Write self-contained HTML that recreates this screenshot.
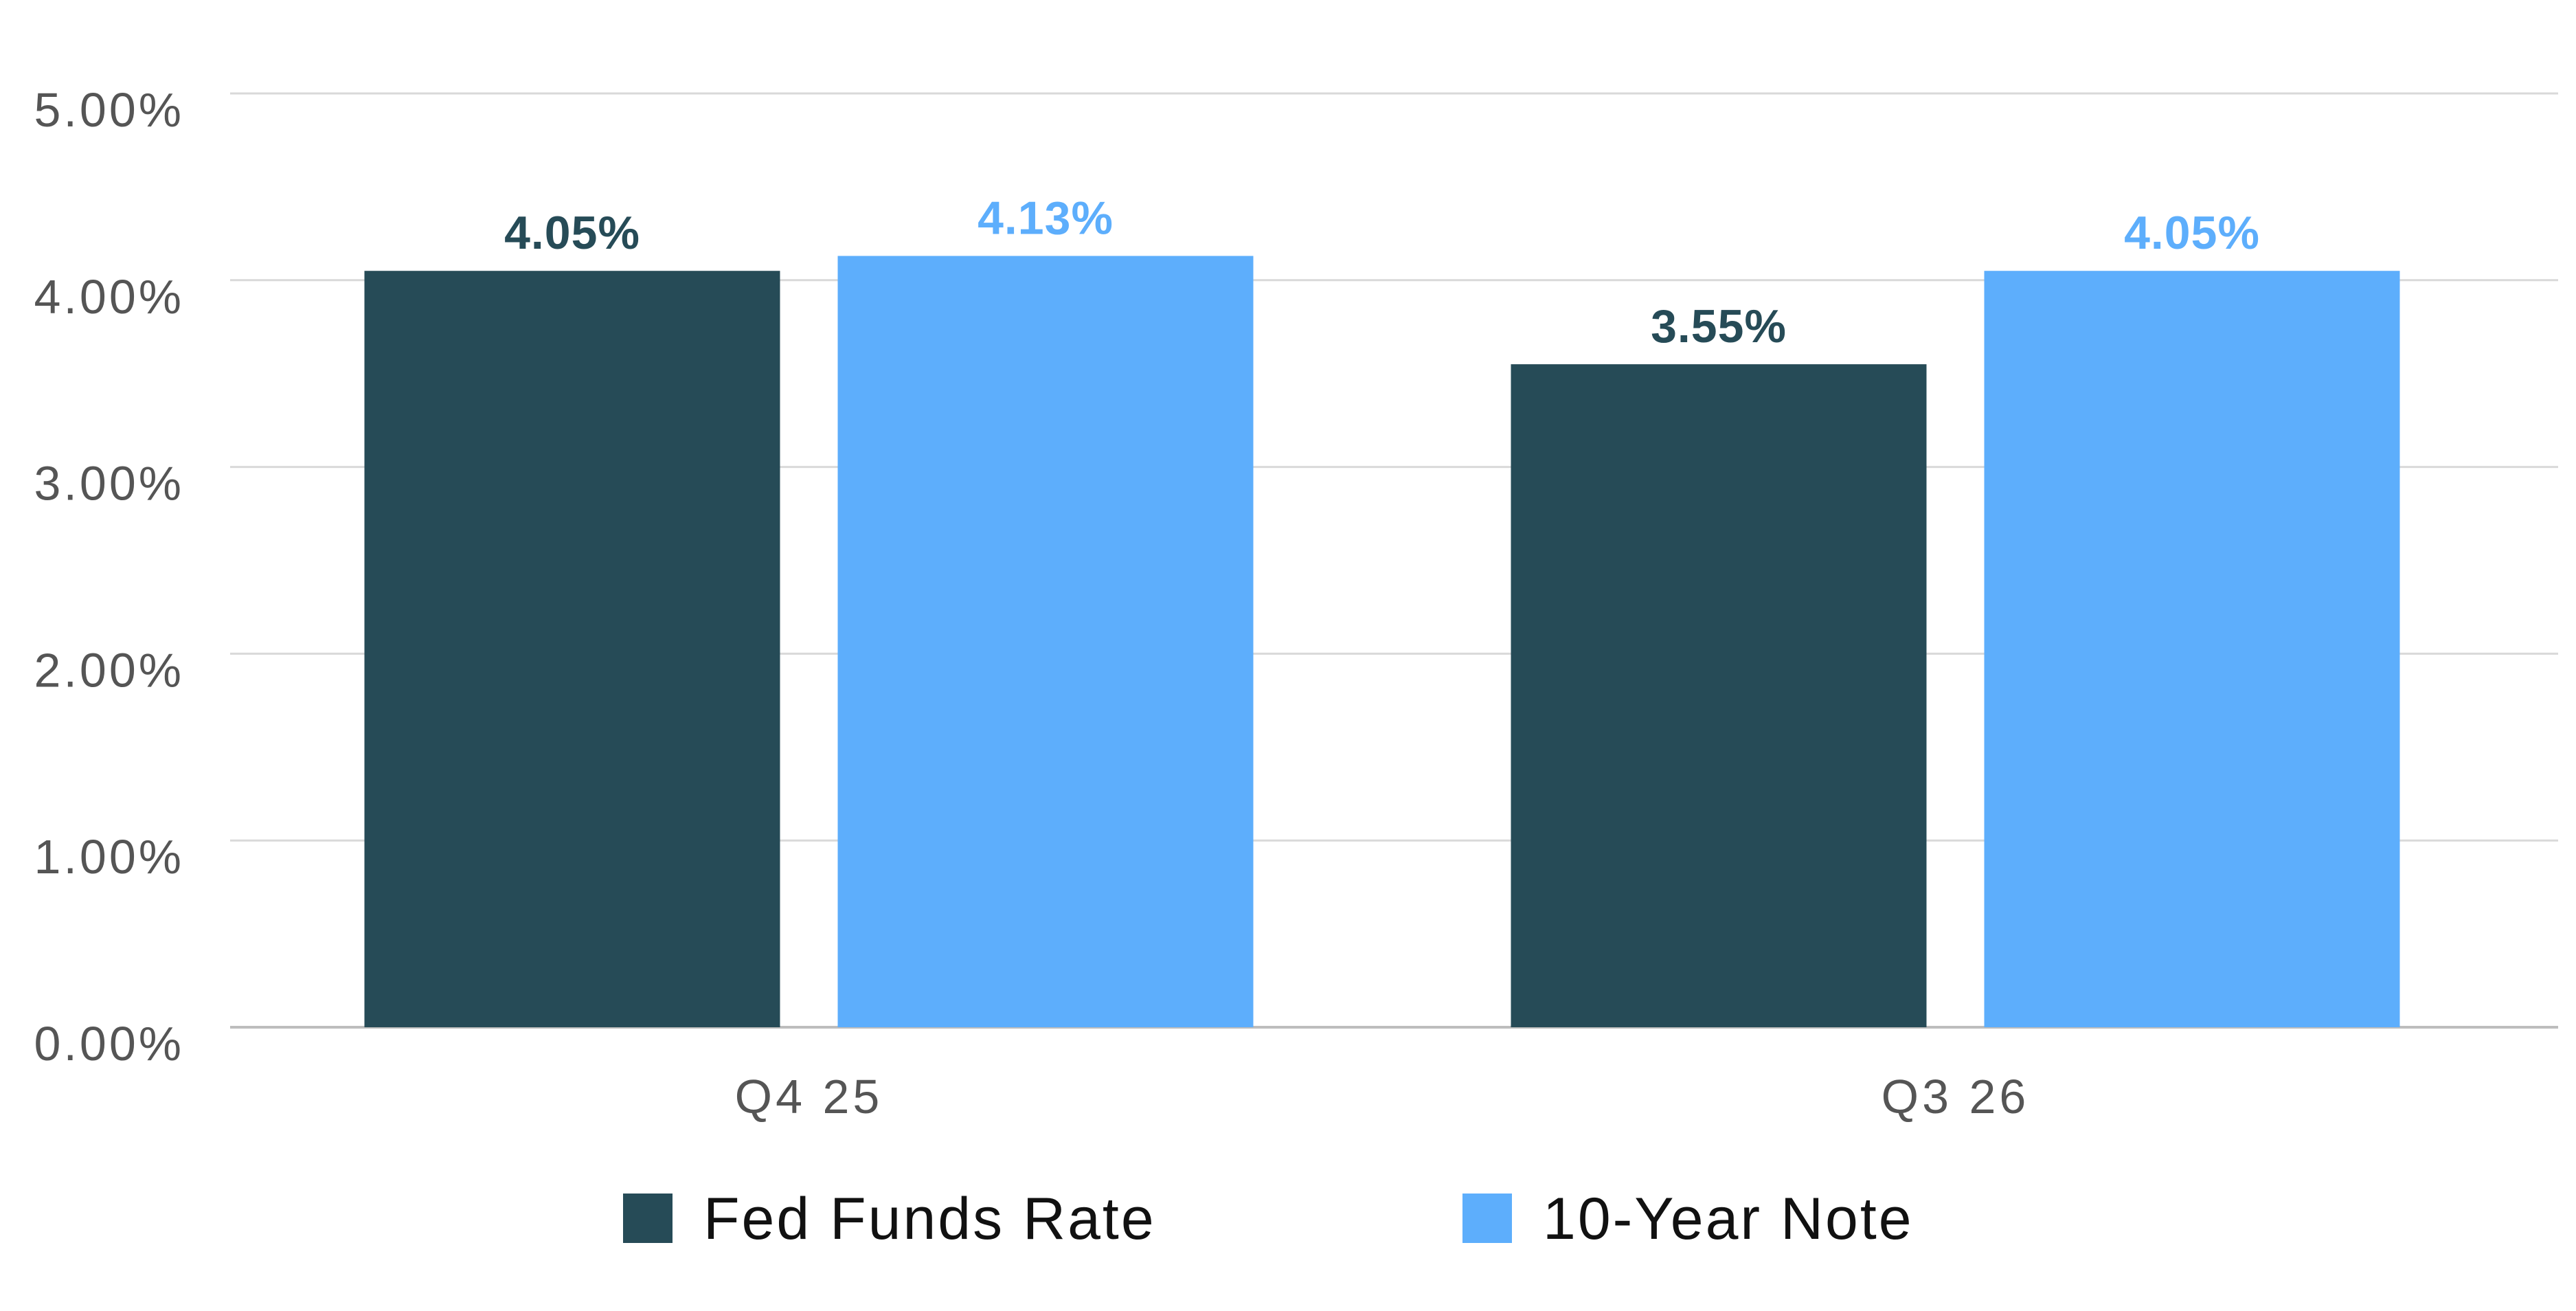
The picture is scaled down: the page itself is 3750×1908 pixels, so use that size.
<!DOCTYPE html>
<html><head><meta charset="utf-8"><style>
html,body{margin:0;padding:0;background:#fff;}
svg{display:block;font-family:"Liberation Sans",sans-serif;}
</style></head><body>
<svg id="chart" width="3750" height="1908" viewBox="0 0 3750 1908"></svg>
<script>
const categories = ["Q4 25", "Q3 26"];
const seriesNames = ["Fed Funds Rate", "10-Year Note"];
const fedFunds = [4.05, 3.55];
const tenYear = [4.13, 4.05];
const yTicks = [0, 1, 2, 3, 4, 5];
const yTickLabels = ["0.00%", "1.00%", "2.00%", "3.00%", "4.00%", "5.00%"];

const NS = "http://www.w3.org/2000/svg";
const svg = document.getElementById("chart");
const colors = ["#264b57", "#5daefc"];
const y0 = 1495, perUnit = 271.8;
const yScale = v => y0 - v * perUnit;
const bandStart = 343, bandW = 1669;
const xCenter = i => bandStart + bandW * (i + 0.5);
const barW = 605, barGap = 84;

function mk(tag, attrs, parent) {
  const e = document.createElementNS(NS, tag);
  for (const k in attrs) e.setAttribute(k, attrs[k]);
  (parent || svg).appendChild(e);
  return e;
}

yTicks.forEach((t, i) => {
  const y = yScale(t);
  const g = mk("line", {x1: 335, x2: 3724, y1: y, y2: y, stroke: i === 0 ? "#bdbdbd" : "#d9d9d9", "stroke-width": i === 0 ? 4 : 3});
  
  
  const tx = mk("text", {x: 268, y: y + 48, "text-anchor": "end", "font-size": 70, fill: "#555", "letter-spacing": 4});
  tx.textContent = yTickLabels[i];
  
  
});

[fedFunds, tenYear].forEach((series, s) => {
  series.forEach((v, i) => {
    const x = xCenter(i) - barW - barGap / 2 + s * (barW + barGap);
    const r = mk("rect", {x: x, y: yScale(v), width: barW, height: y0 - yScale(v), fill: colors[s]});
    
    
    const t = mk("text", {x: x + barW / 2, y: yScale(v) - 32, "text-anchor": "middle", "font-size": 68, "font-weight": "600", fill: colors[s], "letter-spacing": 1});
    t.textContent = v.toFixed(2) + "%";
    
    
  });
});

categories.forEach((c, i) => {
  const t = mk("text", {x: xCenter(i), y: 1620, "text-anchor": "middle", "font-size": 70, fill: "#555", "letter-spacing": 5});
  t.textContent = c;
  
  
});

const legendX = [907, 2129];
seriesNames.forEach((n, s) => {
  const r = mk("rect", {x: legendX[s], y: 1737, width: 72, height: 72, fill: colors[s]});
  
  
  const t = mk("text", {x: legendX[s] + 117, y: 1803, "font-size": 86, fill: "#111", "letter-spacing": 3});
  t.textContent = n;
  
  
});
</script>
</body></html>
